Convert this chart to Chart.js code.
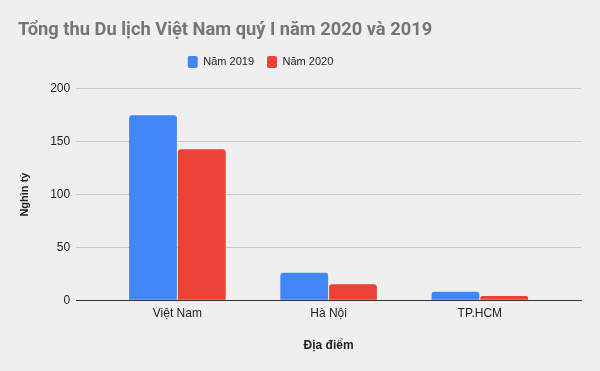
<!DOCTYPE html>
<html lang="vi">
<head>
    <meta charset="utf-8">
    <title>Tổng thu Du lịch</title>
    <script src="https://cdn.jsdelivr.net/npm/chart.js@4.4.8/dist/chart.umd.min.js"></script>
    <style>
        html, body { margin: 0; padding: 0; background: #efefef; }
        #wrap { width: 600px; height: 371px; }
    </style>
</head>
<body>
    <div id="wrap"><canvas id="chart"></canvas></div>
    <script>
        const categories = ['Việt Nam', 'Hà Nội', 'TP.HCM'];
        const nam2019 = [175, 26, 8];
        const nam2020 = [143, 15, 4];
        const yTicks = [0, 50, 100, 150, 200];

        // trục danh mục có thêm khoảng trống hai bên (giống Google Sheets)
        class PaddedCategory extends Chart.CategoryScale {
            buildTicks() {
                const ticks = super.buildTicks();
                const pad = this.options.sidePad || 0;
                this._startValue -= pad;
                this._valueRange += 2 * pad;
                return ticks;
            }
        }
        PaddedCategory.id = 'paddedCategory';
        PaddedCategory.defaults = Chart.CategoryScale.defaults;
        Chart.register(PaddedCategory);

        // nền xám, nới chiều cao chú thích và dời chú thích sang trái
        const bgPlugin = {
            id: 'bg',
            beforeInit(chart) {
                const fit = chart.legend.fit;
                chart.legend.fit = function () {
                    fit.bind(chart.legend)();
                    this.height += 11;
                };
            },
            afterLayout(chart) {
                chart.legend.left -= 39;
                chart.legend.right -= 39;
            },
            beforeDraw(chart) {
                const ctx = chart.ctx;
                ctx.save();
                ctx.fillStyle = '#efefef';
                ctx.fillRect(0, 0, chart.width, chart.height);
                ctx.restore();
            }
        };

        Chart.defaults.font.family = 'Arial, "Liberation Sans", sans-serif';

        new Chart(document.getElementById('chart'), {
            type: 'bar',
            data: {
                labels: categories,
                datasets: [
                    {
                        label: 'Năm 2019',
                        data: nam2019,
                        backgroundColor: '#4285f4',
                        borderRadius: { topLeft: 3, topRight: 3 },
                        borderSkipped: 'bottom',
                        barPercentage: 0.98,
                        categoryPercentage: 0.645
                    },
                    {
                        label: 'Năm 2020',
                        data: nam2020,
                        backgroundColor: '#ea4335',
                        borderRadius: { topLeft: 3, topRight: 3 },
                        borderSkipped: 'bottom',
                        barPercentage: 0.98,
                        categoryPercentage: 0.645
                    }
                ]
            },
            options: {
                responsive: true,
                maintainAspectRatio: false,
                animation: false,
                layout: { padding: { left: 18, right: 19, top: 13, bottom: 14 } },
                plugins: {
                    title: {
                        display: true,
                        text: 'Tổng thu Du lịch Việt Nam quý I năm 2020 và 2019',
                        align: 'start',
                        color: '#757575',
                        font: { family: 'Roboto, Arial, sans-serif', size: 18.3, weight: 'bold' },
                        padding: { top: 6, bottom: 2 }
                    },
                    legend: {
                        display: true,
                        labels: {
                            color: '#222',
                            font: { size: 11 },
                            boxWidth: 10,
                            boxHeight: 12,
                            useBorderRadius: true,
                            borderRadius: 2,
                            padding: 13
                        }
                    },
                    tooltip: { enabled: false }
                },
                scales: {
                    x: {
                        type: 'paddedCategory',
                        sidePad: 0.169,
                        grid: { display: false },
                        border: { color: '#333', width: 1 },
                        ticks: { color: '#222', font: { size: 12 }, padding: -2 },
                        title: {
                            display: true,
                            text: 'Địa điểm',
                            color: '#222',
                            font: { size: 12, weight: 'bold' },
                            padding: { top: 20 }
                        }
                    },
                    y: {
                        min: 0,
                        max: 200,
                        afterBuildTicks(axis) {
                            axis.ticks = yTicks.map(v => ({ value: v }));
                        },
                        grid: { color: '#c8c8c8', drawTicks: false },
                        border: { display: false },
                        ticks: { color: '#222', font: { size: 12 }, padding: 6 },
                        title: {
                            display: true,
                            text: 'Nghìn tỷ',
                            color: '#222',
                            font: { size: 11, weight: 'bold' },
                            padding: { top: 0, bottom: 13 }
                        }
                    }
                }
            },
            plugins: [bgPlugin]
        });
    </script>
</body>
</html>
